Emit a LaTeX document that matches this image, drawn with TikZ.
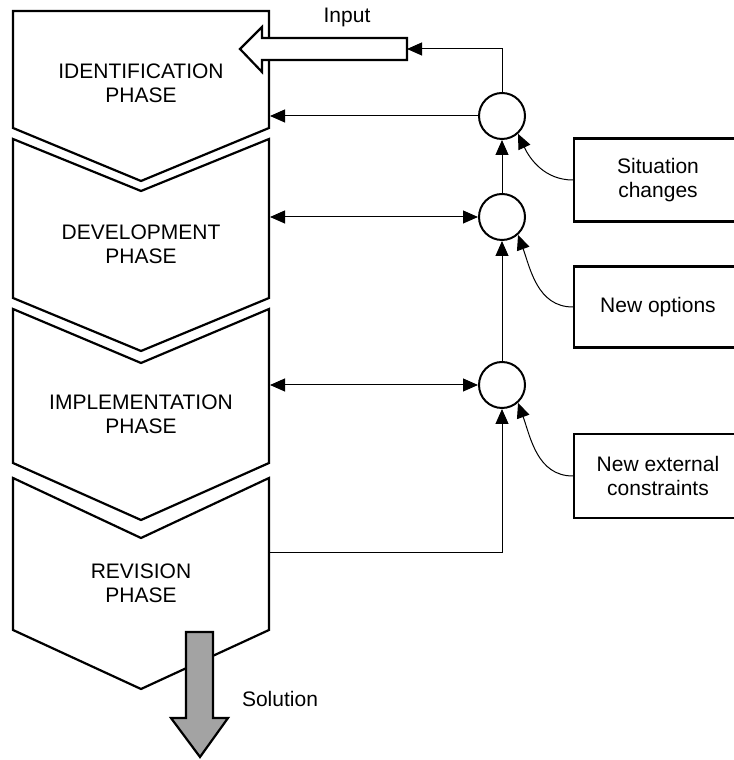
\documentclass[tikz,border=0pt]{standalone}
\usepackage{fontspec}
\setmainfont{Liberation Sans}
\usetikzlibrary{arrows.meta}
\begin{document}
\begin{tikzpicture}[x=1bp,y=1bp,
  phasebox/.style={draw, line width=2.2bp, fill=white, line join=miter},
  lbl/.style={font=\fontsize{21bp}{24bp}\selectfont, align=center, inner sep=0pt},
  junction/.style={circle, draw, line width=2bp, minimum size=46bp, inner sep=0pt, fill=white},
  factor/.style={draw, line width=2.4bp, minimum width=168bp, align=center,
    font=\fontsize{21bp}{24bp}\selectfont, inner sep=0pt},
  link/.style={line width=1bp, -{Triangle[length=15bp,width=13bp]}},
  twoway/.style={line width=1bp, {Triangle[length=15bp,width=13bp]}-{Triangle[length=15bp,width=13bp]}},
  bigarrow/.style={draw, line width=2.2bp, line join=miter},
]
\useasboundingbox (0,0) rectangle (734,760);

% phase chevrons
\draw[phasebox] (13,749) -- (269,749) -- (269,632) -- (141,579) -- (13,632) -- cycle;
\draw[phasebox] (13,621) -- (141,569) -- (269,621) -- (269,462) -- (141,409) -- (13,462) -- cycle;
\draw[phasebox] (13,451) -- (141,397) -- (269,451) -- (269,297) -- (141,240) -- (13,297) -- cycle;
\draw[phasebox] (13,282) -- (141,222) -- (269,282) -- (269,130) -- (141,71) -- (13,130) -- cycle;

\node[lbl] (p1) at (141,677) {IDENTIFICATION\\PHASE};
\node[lbl] (p2) at (141,516) {DEVELOPMENT\\PHASE};
\node[lbl] (p3) at (141,346) {IMPLEMENTATION\\PHASE};
\node[lbl] (p4) at (141,177) {REVISION\\PHASE};

% attachment points on the right edge of the phases
\coordinate (e1) at (270,644);
\coordinate (e2) at (270,543);
\coordinate (e3) at (270,375);
\coordinate (e4) at (269,207);

% input arrow
\draw[bigarrow, fill=white] (240,711) -- (262,733) -- (262,722) -- (407,722) -- (407,700)
  -- (262,700) -- (262,688) -- cycle;
\coordinate (inEnd) at (407,711);
\node[lbl] (input) at (347,743) {Input};

% solution arrow
\draw[bigarrow, fill=black!36] (186,128) -- (213,128) -- (213,42) -- (228,42) -- (200,3)
  -- (171,42) -- (186,42) -- cycle;
\node[lbl] (solution) at (280,61) {Solution};

% junctions
\node[junction] (c1) at (502,644) {};
\node[junction] (c2) at (502,543) {};
\node[junction] (c3) at (502,375) {};

% external factors
\node[factor, minimum height=83bp] (s1) at (658,580) {Situation\\changes};
\node[factor, minimum height=81bp] (s2) at (658,453) {New options};
\node[factor, minimum height=84bp] (s3) at (658,284) {New external\\constraints};

% connectors
\draw[link] (c1.west) -- (e1);
\draw[link] (c1.north) |- (inEnd);
\draw[twoway] (e2) -- (c2.west);
\draw[twoway] (e3) -- (c3.west);
\draw[link] (c2.north) -- (c1.south);
\draw[link] (c3.north) -- (c2.south);
\draw[link] (e4) -| (c3.south);

\draw[link] (s1.west) to[out=180,in=-65] (c1.-48);
\draw[link] (s2.west) to[out=180,in=-70] (c2.-48);
\draw[link] (s3.west) to[out=180,in=-70] (c3.-48);
\end{tikzpicture}
\end{document}
